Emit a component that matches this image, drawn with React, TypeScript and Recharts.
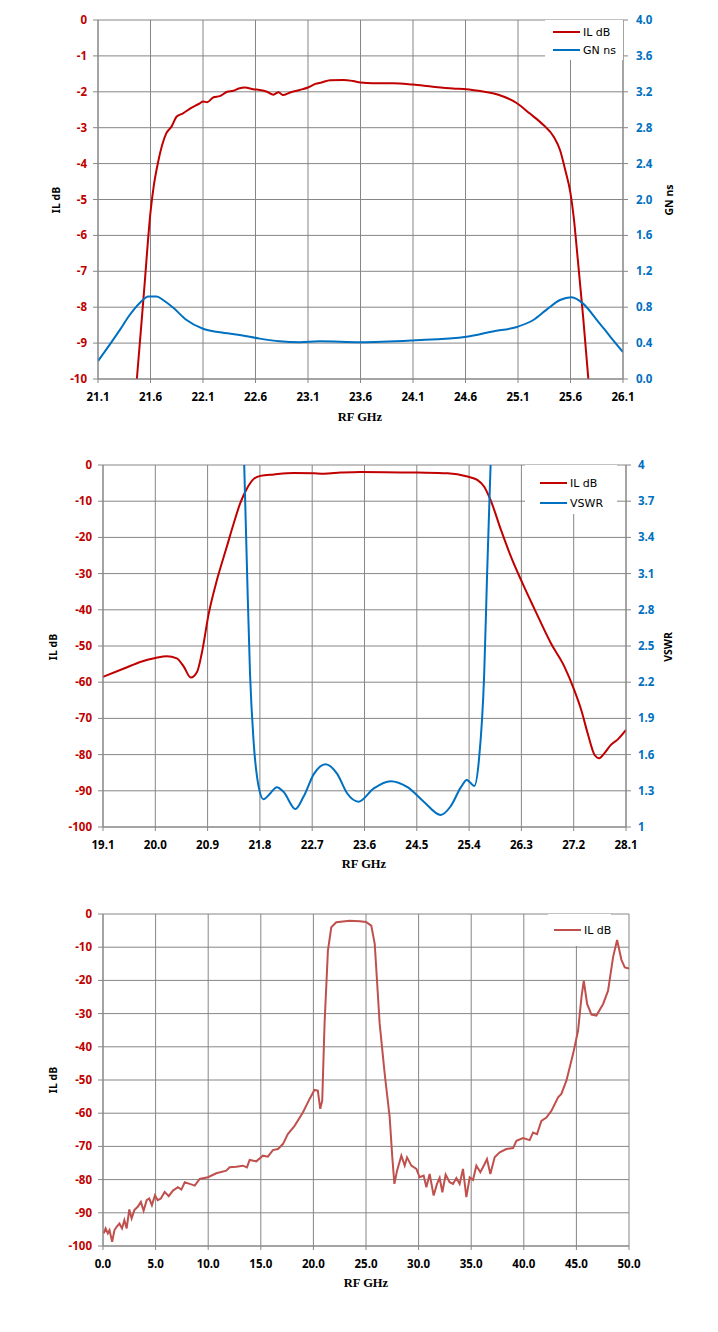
import React from "react";
import { LineChart, Line, XAxis, YAxis, CartesianGrid, Legend, Label } from "recharts";

type Pt = [number, number];

// ---- chart 1: passband insertion loss and group delay, [GHz, value]
const passIl: Pt[] = [
  [21.44, -11.0], [21.47, -10], [21.54, -7.5], [21.6, -5.35], [21.63, -4.64], [21.67, -3.99],
  [21.75, -3.16], [21.8, -2.97], [21.85, -2.69], [21.91, -2.6], [21.98, -2.46], [22.07, -2.32],
  [22.1, -2.27], [22.14, -2.29], [22.2, -2.15], [22.26, -2.12], [22.33, -2.0], [22.39, -1.97],
  [22.44, -1.91], [22.5, -1.88], [22.58, -1.93], [22.64, -1.95], [22.71, -2.0], [22.77, -2.08],
  [22.82, -2.01], [22.86, -2.09], [22.93, -2.02], [23.02, -1.95], [23.1, -1.88], [23.17, -1.78],
  [23.23, -1.74], [23.31, -1.68], [23.44, -1.67], [23.53, -1.7], [23.6, -1.74], [23.72, -1.76],
  [23.91, -1.76], [24.1, -1.8], [24.29, -1.86], [24.48, -1.91], [24.61, -1.93], [24.74, -1.98],
  [24.86, -2.04], [24.96, -2.13], [25.09, -2.32], [25.21, -2.6], [25.34, -2.92], [25.44, -3.25],
  [25.5, -3.62], [25.55, -4.18], [25.6, -4.83], [25.63, -5.48], [25.67, -6.69], [25.72, -8.26],
  [25.77, -10], [25.8, -11.1],
];
const passGd: Pt[] = [
  [21.1, 0.2], [21.21, 0.38], [21.31, 0.55], [21.4, 0.71], [21.5, 0.85], [21.58, 0.92],
  [21.66, 0.92], [21.72, 0.88], [21.82, 0.79], [21.94, 0.66], [22.1, 0.56], [22.26, 0.52],
  [22.45, 0.49], [22.64, 0.45], [22.83, 0.42], [23.02, 0.41], [23.21, 0.42], [23.6, 0.41],
  [24.1, 0.43], [24.61, 0.47], [24.86, 0.53], [25.09, 0.58], [25.25, 0.66], [25.37, 0.77],
  [25.5, 0.88], [25.61, 0.91], [25.72, 0.84], [25.85, 0.66], [25.98, 0.47], [26.1, 0.3],
];
const x1Ticks = [21.1, 21.6, 22.1, 22.6, 23.1, 23.6, 24.1, 24.6, 25.1, 25.6, 26.1];
const il1Ticks = [-10, -9, -8, -7, -6, -5, -4, -3, -2, -1, 0];
const gdTicks = [0, 0.4, 0.8, 1.2, 1.6, 2.0, 2.4, 2.8, 3.2, 3.6, 4.0];

// ---- chart 2: wider sweep, IL and VSWR
const wideIl: Pt[] = [
  [19.1, -58.5], [19.45, -56.3], [19.74, -54.4], [20.0, -53.3], [20.2, -52.8], [20.37, -53.4],
  [20.49, -55.7], [20.61, -58.7], [20.72, -57.1], [20.8, -52.0], [20.92, -41.0], [21.06, -31.8],
  [21.23, -22.6], [21.35, -16.1], [21.46, -10.6], [21.58, -6.4], [21.69, -3.9], [21.81, -3.0],
  [22.04, -2.6], [22.38, -2.2], [22.73, -2.3], [22.9, -2.4], [23.19, -2.1], [23.53, -1.9],
  [24.51, -2.1], [25.03, -2.3], [25.37, -3.2], [25.54, -4.1], [25.66, -6.0], [25.77, -9.7],
  [25.95, -18.0], [26.12, -25.3], [26.32, -32.7], [26.52, -39.6], [26.81, -49.3], [27.04, -55.7],
  [27.21, -62.2], [27.33, -67.7], [27.44, -74.1], [27.56, -80.1], [27.64, -81.0], [27.73, -79.6],
  [27.84, -77.3], [27.96, -75.8], [28.1, -73.2],
];
const wideVswr: Pt[] = [
  [21.5, 4.5], [21.53, 4.0], [21.58, 3.1], [21.63, 2.27], [21.69, 1.72], [21.78, 1.33],
  [21.86, 1.23], [21.98, 1.28], [22.09, 1.33], [22.21, 1.29], [22.41, 1.15], [22.55, 1.25],
  [22.73, 1.44], [22.93, 1.52], [23.13, 1.44], [23.3, 1.28], [23.5, 1.21], [23.76, 1.32],
  [24.05, 1.38], [24.34, 1.33], [24.62, 1.21], [24.91, 1.1], [25.08, 1.17], [25.26, 1.33],
  [25.36, 1.39], [25.49, 1.34], [25.57, 1.56], [25.66, 2.27], [25.71, 3.1], [25.77, 4.0],
  [25.8, 4.45],
];
const x2Ticks = [19.1, 20.0, 20.9, 21.8, 22.7, 23.6, 24.5, 25.4, 26.3, 27.2, 28.1];
const il2Ticks = [-100, -90, -80, -70, -60, -50, -40, -30, -20, -10, 0];
const vswrTicks = [1, 1.3, 1.6, 1.9, 2.2, 2.5, 2.8, 3.1, 3.4, 3.7, 4];

// ---- chart 3: broadband IL 0-50 GHz
const broadIl: Pt[] = [
  [0.07, -96.2], [0.25, -94.7], [0.46, -96.2], [0.62, -95.2], [0.87, -98.7], [1.09, -95.2],
  [1.3, -94.2], [1.56, -93.2], [1.81, -94.7], [2.03, -92.2], [2.25, -94.7], [2.5, -89.0],
  [2.72, -91.7], [2.98, -89.2], [3.3, -88.2], [3.6, -86.7], [3.86, -89.4], [4.15, -86.2],
  [4.4, -85.7], [4.65, -87.7], [4.94, -84.7], [5.2, -86.2], [5.5, -85.7], [5.86, -83.7],
  [6.25, -85.0], [6.65, -83.3], [7.12, -82.3], [7.45, -83.0], [7.77, -80.8], [8.24, -81.3],
  [8.72, -81.8], [9.19, -79.8], [9.98, -79.3], [10.77, -78.1], [11.72, -77.3], [12.04, -76.3],
  [12.67, -76.1], [13.3, -75.8], [13.68, -76.3], [13.94, -74.1], [14.57, -74.5], [15.2, -72.8],
  [15.67, -73.1], [16.15, -71.1], [16.63, -70.8], [17.1, -69.3], [17.57, -66.3], [18.21, -63.8],
  [19.0, -59.8], [19.64, -55.7], [20.1, -53.0], [20.42, -53.2], [20.65, -58.7], [20.84, -56.2],
  [21.06, -33.1], [21.38, -11.0], [21.7, -4.0], [22.17, -2.5], [23.44, -2.0], [24.4, -2.2],
  [25.0, -2.4], [25.5, -3.5], [25.83, -9.0], [26.3, -33.1], [26.78, -48.2], [27.25, -61.2],
  [27.5, -73.3], [27.7, -81.3], [27.95, -77.3], [28.36, -72.8], [28.68, -75.8], [28.9, -73.3],
  [29.31, -75.8], [29.79, -76.8], [30.1, -79.3], [30.48, -78.8], [30.74, -82.3], [31.05, -78.3],
  [31.43, -84.8], [31.75, -81.3], [32.0, -79.5], [32.26, -83.8], [32.57, -78.5], [32.95, -80.8],
  [33.27, -81.3], [33.59, -79.5], [33.9, -81.3], [34.22, -76.8], [34.54, -85.3], [34.86, -79.3],
  [35.17, -80.1], [35.49, -75.8], [35.87, -77.8], [36.28, -75.3], [36.5, -73.8], [36.82, -78.3],
  [37.23, -73.3], [37.71, -71.8], [38.34, -70.8], [38.98, -70.5], [39.3, -68.3], [39.93, -67.5],
  [40.56, -68.1], [40.88, -65.8], [41.26, -66.3], [41.67, -62.3], [42.15, -61.3], [42.62, -59.3],
  [43.26, -55.2], [43.57, -54.2], [44.05, -50.2], [44.68, -42.2], [45.16, -35.1], [45.48, -25.1],
  [45.7, -20.1], [46.02, -27.1], [46.43, -30.3], [46.9, -30.6], [47.54, -27.1], [48.01, -23.1],
  [48.49, -12.9], [48.87, -7.8], [49.28, -13.8], [49.6, -16.1], [50.0, -16.4],
];
const x3Ticks = [0, 5, 10, 15, 20, 25, 30, 35, 40, 45, 50];

const RED = "#c00000";
const BLUE = "#0070c0";
const SOFT_RED = "#c0504d";
const GRID = "#868686";

const tickFont = { fontFamily: "'Noto Sans', sans-serif", fontSize: 11.5, fontWeight: 700 };
const yTitleFont = { fontFamily: "'Noto Sans', sans-serif", fontSize: 10.5, fontWeight: 700, fill: "#000" };
const xTitleFont = { fontFamily: "'Liberation Serif', serif", fontSize: 12.5, fontWeight: 700, fill: "#000" };

// merge series into one table keyed by frequency
const toRows = (series: Record<string, Pt[]>) => {
  const rows: Record<string, number>[] = [];
  Object.entries(series).forEach(([key, pts]) =>
    pts.forEach(([f, v]) => rows.push({ f, [key]: v }))
  );
  return rows.sort((a, b) => a.f - b.f);
};

const title = (text: string, cx: number, cy: number, vertical: boolean, font: any) => () => (
  <text
    x={cx}
    y={cy}
    transform={vertical ? `rotate(-90 ${cx} ${cy})` : undefined}
    textAnchor="middle"
    dominantBaseline="central"
    style={font}
  >
    {text}
  </text>
);

// legend keeps the series order given in `order` (recharts sorts by name otherwise)
const LegendBox = ({ payload, rowH, padTop, padLeft, order }: any) => {
  const items = [...(payload || [])].sort(
    (a: any, b: any) => order.indexOf(a.value) - order.indexOf(b.value)
  );
  return (
    <div style={{ paddingTop: padTop, paddingLeft: padLeft, boxSizing: "border-box" }}>
      {items.map((e: any) => (
        <div key={e.value} style={{ height: rowH, display: "flex", alignItems: "center", whiteSpace: "nowrap" }}>
          <span style={{ width: 27, height: 0, borderTop: `2.5px solid ${e.color}`, marginRight: 3, flex: "none" }} />
          <span style={{ fontFamily: "'DejaVu Sans', sans-serif", fontSize: 11, color: "#000", lineHeight: 1 }}>
            {e.value}
          </span>
        </div>
      ))}
    </div>
  );
};

const fmt1 = (v: number) => v.toFixed(1);

const App = () => {
  const rows1 = toRows({ il: passIl, gd: passGd });
  const rows2 = toRows({ il: wideIl, vswr: wideVswr });
  const rows3 = toRows({ il: broadIl });

  return (
    <div style={{ position: "absolute", left: 0, top: 0, width: 718, height: 1332, background: "#fff" }}>
      {/* chart 1 */}
      <div style={{ position: "absolute", left: 0, top: 0 }}>
        <LineChart width={718} height={440} data={rows1} margin={{ top: 20, right: 45, bottom: 31, left: 38 }}>
          <CartesianGrid yAxisId="il" stroke={GRID} />
          <XAxis
            type="number"
            dataKey="f"
            domain={[21.1, 26.1]}
            ticks={x1Ticks}
            interval={0}
            allowDataOverflow
            tickFormatter={fmt1}
            height={30}
            tickSize={4}
            tickMargin={10}
            stroke={GRID}
            tick={{ ...tickFont, fill: "#000" }}
          >
            <Label content={title("RF GHz", 360, 417, false, xTitleFont)} />
          </XAxis>
          <YAxis
            yAxisId="il"
            orientation="left"
            width={60}
            domain={[-10, 0]}
            ticks={il1Ticks}
            interval={0}
            allowDataOverflow
            tickSize={5}
            tickMargin={6}
            stroke={GRID}
            tick={{ ...tickFont, fill: RED }}
          >
            <Label content={title("IL dB", 56, 200, true, yTitleFont)} />
          </YAxis>
          <YAxis
            yAxisId="gd"
            orientation="right"
            width={50}
            domain={[0, 4]}
            ticks={gdTicks}
            interval={0}
            allowDataOverflow
            tickFormatter={fmt1}
            tickSize={5}
            tickMargin={8}
            stroke={GRID}
            tick={{ ...tickFont, fill: BLUE }}
          >
            <Label content={title("GN ns", 669, 200, true, yTitleFont)} />
          </YAxis>
          <Legend
            layout="horizontal"
            verticalAlign="middle"
            align="center"
            wrapperStyle={{ top: 20, left: 545, width: 78, height: 40, background: "#fff" }}
            content={(p: any) => (
              <LegendBox {...p} order={["IL dB", "GN ns"]} rowH={18} padTop={3} padLeft={8} />
            )}
          />
          <Line
            yAxisId="il"
            dataKey="il"
            name="IL dB"
            type="monotone"
            stroke={RED}
            strokeWidth={2}
            dot={false}
            activeDot={false}
            connectNulls
            isAnimationActive={false}
          />
          <Line
            yAxisId="gd"
            dataKey="gd"
            name="GN ns"
            type="monotone"
            stroke={BLUE}
            strokeWidth={2}
            dot={false}
            activeDot={false}
            connectNulls
            isAnimationActive={false}
          />
        </LineChart>
      </div>

      {/* chart 2 */}
      <div style={{ position: "absolute", left: 0, top: 445 }}>
        <LineChart width={718} height={440} data={rows2} margin={{ top: 20, right: 42, bottom: 28, left: 38 }}>
          <CartesianGrid yAxisId="il" stroke={GRID} />
          <XAxis
            type="number"
            dataKey="f"
            domain={[19.1, 28.1]}
            ticks={x2Ticks}
            interval={0}
            allowDataOverflow
            tickFormatter={fmt1}
            height={30}
            tickSize={4}
            tickMargin={10}
            stroke={GRID}
            tick={{ ...tickFont, fill: "#000" }}
          >
            <Label content={title("RF GHz", 364, 419, false, xTitleFont)} />
          </XAxis>
          <YAxis
            yAxisId="il"
            orientation="left"
            width={65}
            domain={[-100, 0]}
            ticks={il2Ticks}
            interval={0}
            allowDataOverflow
            tickSize={5}
            tickMargin={6}
            stroke={GRID}
            tick={{ ...tickFont, fill: RED }}
          >
            <Label content={title("IL dB", 53, 202, true, yTitleFont)} />
          </YAxis>
          <YAxis
            yAxisId="vswr"
            orientation="right"
            width={50}
            domain={[1, 4]}
            ticks={vswrTicks}
            interval={0}
            allowDataOverflow
            tickFormatter={(v: number) => String(v)}
            tickSize={5}
            tickMargin={7}
            stroke={GRID}
            tick={{ ...tickFont, fill: BLUE }}
          >
            <Label content={title("VSWR", 668, 202, true, yTitleFont)} />
          </YAxis>
          <Legend
            layout="horizontal"
            verticalAlign="middle"
            align="center"
            wrapperStyle={{ top: 20, left: 525, width: 92, height: 49, background: "#fff" }}
            content={(p: any) => (
              <LegendBox {...p} order={["IL dB", "VSWR"]} rowH={20} padTop={8} padLeft={15} />
            )}
          />
          <Line
            yAxisId="il"
            dataKey="il"
            name="IL dB"
            type="monotone"
            stroke={RED}
            strokeWidth={2}
            dot={false}
            activeDot={false}
            connectNulls
            isAnimationActive={false}
          />
          <Line
            yAxisId="vswr"
            dataKey="vswr"
            name="VSWR"
            type="monotone"
            stroke={BLUE}
            strokeWidth={2}
            dot={false}
            activeDot={false}
            connectNulls
            isAnimationActive={false}
          />
        </LineChart>
      </div>

      {/* chart 3 */}
      <div style={{ position: "absolute", left: 0, top: 894 }}>
        <LineChart width={718} height={438} data={rows3} margin={{ top: 20, right: 89, bottom: 56, left: 38 }}>
          <CartesianGrid yAxisId="il" stroke={GRID} />
          <XAxis
            type="number"
            dataKey="f"
            domain={[0, 50]}
            ticks={x3Ticks}
            interval={0}
            allowDataOverflow
            tickFormatter={fmt1}
            height={30}
            tickSize={4}
            tickMargin={10}
            stroke={GRID}
            tick={{ ...tickFont, fill: "#000" }}
          >
            <Label content={title("RF GHz", 366, 389, false, xTitleFont)} />
          </XAxis>
          <YAxis
            yAxisId="il"
            orientation="left"
            width={65}
            domain={[-100, 0]}
            ticks={il2Ticks}
            interval={0}
            allowDataOverflow
            tickSize={5}
            tickMargin={6}
            stroke={GRID}
            tick={{ ...tickFont, fill: RED }}
          >
            <Label content={title("IL dB", 53, 186, true, yTitleFont)} />
          </YAxis>
          <Legend
            layout="horizontal"
            verticalAlign="middle"
            align="center"
            wrapperStyle={{ top: 20, left: 548, width: 63, height: 32, background: "#fff" }}
            content={(p: any) => <LegendBox {...p} order={["IL dB"]} rowH={20} padTop={6} padLeft={6} />}
          />
          <Line
            yAxisId="il"
            dataKey="il"
            name="IL dB"
            type="linear"
            stroke={SOFT_RED}
            strokeWidth={2}
            dot={false}
            activeDot={false}
            connectNulls
            isAnimationActive={false}
          />
        </LineChart>
      </div>
    </div>
  );
};

export default App;
